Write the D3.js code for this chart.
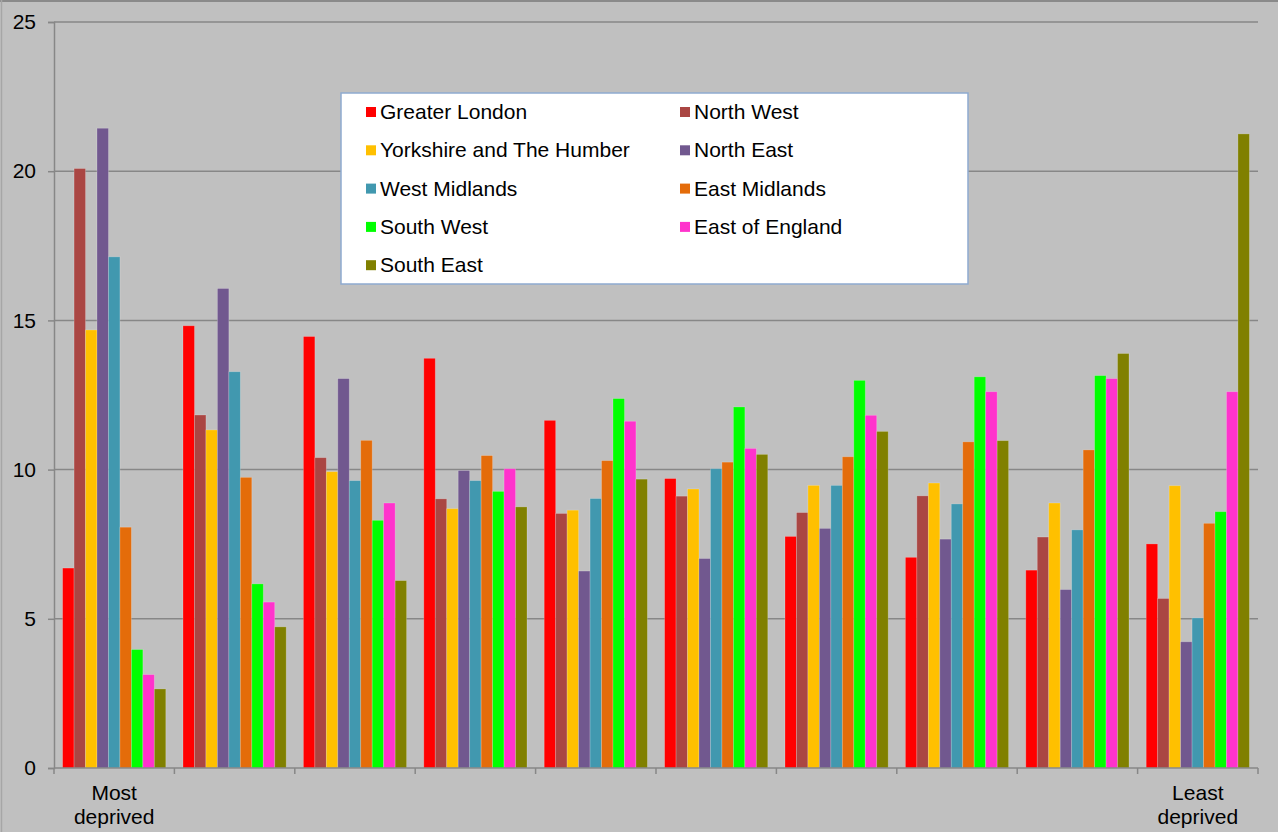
<!DOCTYPE html>
<html>
<head>
<meta charset="utf-8">
<script src="https://cdn.jsdelivr.net/npm/d3@7"></script>
<style>
  html, body { margin: 0; padding: 0; background: #c0c0c0; }
  svg { display: block; }
  text { font-family: "Liberation Sans", Arial, sans-serif; fill: #000; }
</style>
</head>
<body>
<svg id="chart" width="1278" height="832"></svg>
<script>
// Deciles of deprivation, most to least deprived
const categories = ["Most deprived", "2", "3", "4", "5", "6", "7", "8", "9", "Least deprived"];
const categoryLabels = ["Most\ndeprived", "", "", "", "", "", "", "", "", "Least\ndeprived"];

const regions = [
  "Greater London", "North West", "Yorkshire and The Humber", "North East",
  "West Midlands", "East Midlands", "South West", "East of England", "South East"
];

const regionColors = [
  "#ff0000", "#aa4643", "#ffc000", "#71588f",
  "#4198af", "#e46c0a", "#00ff00", "#ff33cc", "#808000"
];

// Percentage of each region's areas falling in each decile
const greaterLondon  = [6.70, 14.82, 14.46, 13.73, 11.65, 9.70, 7.76, 7.06, 6.63, 7.51];
const northWest      = [20.09, 11.83, 10.40, 9.02, 8.53, 9.11, 8.56, 9.12, 7.74, 5.68];
const yorkshire      = [14.68, 11.33, 9.93, 8.69, 8.64, 9.35, 9.47, 9.55, 8.88, 9.46];
const northEast      = [21.44, 16.07, 13.05, 9.97, 6.60, 7.02, 8.03, 7.67, 5.98, 4.23];
const westMidlands   = [17.13, 13.28, 9.63, 9.63, 9.03, 10.03, 9.47, 8.85, 7.98, 5.03];
const eastMidlands   = [8.07, 9.74, 10.98, 10.47, 10.30, 10.25, 10.43, 10.93, 10.66, 8.20];
const southWest      = [3.97, 6.17, 8.30, 9.27, 12.38, 12.10, 12.99, 13.11, 13.15, 8.59];
const eastOfEngland  = [3.13, 5.56, 8.88, 10.03, 11.62, 10.71, 11.82, 12.61, 13.05, 12.61];
const southEast      = [2.65, 4.73, 6.28, 8.75, 9.68, 10.51, 11.28, 10.97, 13.89, 21.25];

const seriesValues = [
  greaterLondon, northWest, yorkshire, northEast, westMidlands,
  eastMidlands, southWest, eastOfEngland, southEast
];

const yTicks = [0, 5, 10, 15, 20, 25];

const svg = d3.select("#chart");
const W = 1278, H = 832;
const plot = { left: 54, right: 1258, top: 22, bottom: 768 };
const FONT_SIZE = "21px";

// chart area frame (top and left edges)
svg.append("line").attr("x1", 0).attr("x2", W).attr("y1", 1).attr("y2", 1)
  .attr("stroke", "#8a8a8a").attr("stroke-width", 2);
svg.append("line").attr("x1", 1.5).attr("x2", 1.5).attr("y1", 0).attr("y2", H)
  .attr("stroke", "#a6a6a6").attr("stroke-width", 1.5);

const x0 = d3.scaleBand().domain(categories).range([plot.left, plot.right])
  .paddingInner(0).paddingOuter(0);
const x1 = d3.scaleBand().domain(regions).range([0, x0.bandwidth()])
  .paddingInner(0).paddingOuter(0.75);
const y = d3.scaleLinear().domain([0, 25]).range([plot.bottom, plot.top]);
const color = d3.scaleOrdinal().domain(regions).range(regionColors);

// horizontal gridlines
svg.append("g").selectAll("line").data(yTicks.filter(t => t > 0)).join("line")
  .attr("x1", plot.left).attr("x2", plot.right)
  .attr("y1", d => y(d)).attr("y2", d => y(d))
  .attr("stroke", "#878787").attr("stroke-width", 1.5);

// bars
const groups = svg.append("g").selectAll("g").data(categories).join("g")
  .attr("transform", c => `translate(${x0(c)},0)`);

groups.selectAll("rect")
  .data((c, i) => regions.map((r, j) => ({ region: r, value: seriesValues[j][i] })))
  .join("rect")
  .attr("x", d => x1(d.region))
  .attr("width", x1.bandwidth())
  .attr("y", d => y(d.value))
  .attr("height", d => y(0) - y(d.value))
  .attr("fill", d => color(d.region))
  .attr("stroke", "rgba(255,255,255,0.25)")
  .attr("stroke-width", 0.8);

// y axis
const yAxis = d3.axisLeft(y).tickValues(yTicks).tickSize(6).tickPadding(12);
const gy = svg.append("g").attr("transform", `translate(${plot.left},0)`).call(yAxis);
gy.select(".domain").attr("stroke", "#878787").attr("stroke-width", 1.5);
gy.selectAll(".tick line").attr("stroke", "#878787").attr("stroke-width", 1.5);
gy.selectAll(".tick text")
  .style("font-family", '"Liberation Sans", Arial, sans-serif')
  .style("font-size", FONT_SIZE).attr("fill", "#000");

// x axis with ticks at group boundaries
const gx = svg.append("g").attr("transform", `translate(0,${plot.bottom})`);
gx.append("line").attr("x1", plot.left).attr("x2", plot.right)
  .attr("stroke", "#878787").attr("stroke-width", 1.5);
const boundaries = categories.map(c => x0(c)).concat([plot.right]);
gx.selectAll(".bt").data(boundaries).join("line").attr("class", "bt")
  .attr("x1", d => d).attr("x2", d => d).attr("y1", 0).attr("y2", 6)
  .attr("stroke", "#878787").attr("stroke-width", 1.5);

gx.selectAll(".cl").data(categories).join("text").attr("class", "cl")
  .attr("x", c => x0(c) + x0.bandwidth() / 2)
  .attr("text-anchor", "middle")
  .style("font-size", FONT_SIZE)
  .each(function (c, i) {
    const lines = categoryLabels[i] ? categoryLabels[i].split("\n") : [];
    d3.select(this).selectAll("tspan").data(lines).join("tspan")
      .attr("x", x0(c) + x0.bandwidth() / 2)
      .attr("y", (d, k) => 32 + k * 24)
      .text(d => d);
  });

// legend
const legend = svg.append("g").attr("transform", "translate(341,93)");
legend.append("rect").attr("width", 627).attr("height", 191)
  .attr("fill", "#ffffff").attr("stroke", "#8eaad0").attr("stroke-width", 1.5);
const items = legend.selectAll(".li").data(regions).join("g").attr("class", "li")
  .attr("transform", (d, i) => `translate(${i % 2 === 0 ? 25 : 339},${19 + Math.floor(i / 2) * 38.3})`);
items.append("rect").attr("x", 0).attr("y", -5).attr("width", 10).attr("height", 10)
  .attr("fill", d => color(d));
items.append("text").attr("x", 14).attr("y", 7).style("font-size", FONT_SIZE).text(d => d);
</script>
</body>
</html>
